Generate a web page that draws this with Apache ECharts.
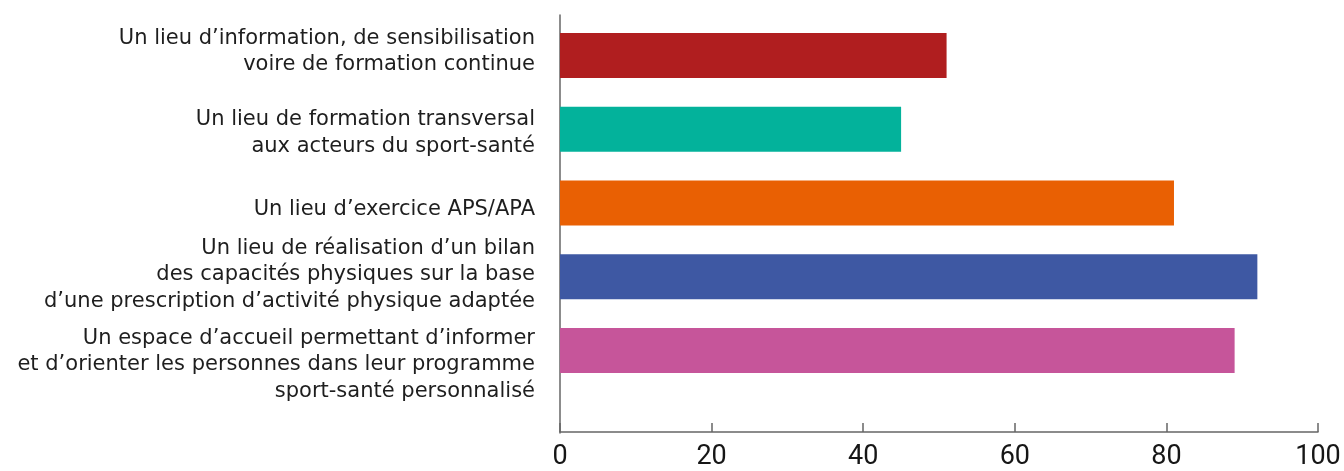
<!DOCTYPE html>
<html><head><meta charset="utf-8">
<script src="https://cdn.jsdelivr.net/npm/echarts@6/dist/echarts.min.js"></script>
<style>html,body{margin:0;padding:0;background:#fff}#c{width:1344px;height:471px}</style>
</head><body><div id="c"></div>
<script>
const categories = [
  "Un lieu d’information, de sensibilisation\nvoire de formation continue",
  "Un lieu de formation transversal\naux acteurs du sport-santé",
  "Un lieu d’exercice APS/APA",
  "Un lieu de réalisation d’un bilan\ndes capacités physiques sur la base\nd’une prescription d’activité physique adaptée",
  "Un espace d’accueil permettant d’informer\net d’orienter les personnes dans leur programme\nsport-santé personnalisé"
];
const values = [51, 45, 81, 92, 89];
const colors = ["#B01E1F", "#03B29B", "#E96003", "#3E58A3", "#C6559A"];
const xTicks = [0, 20, 40, 60, 80, 100];

// layout: vertical nudge of each category label (px, + = down)
const labelShift = [-4, 4, 7, -2, 14];

const font = "DejaVu Sans";
const base = {color: '#1e1e1e', fontSize: 21, fontFamily: font, lineHeight: 26.5, align: 'right'};
const rich = {n: Object.assign({}, base)};
labelShift.forEach((d, i) => {
  rich['sp' + i] = {fontSize: 1, lineHeight: Math.abs(2 * d), color: 'rgba(0,0,0,0)'};
});

const chart = echarts.init(document.getElementById('c'));
chart.setOption({
  animation: false,
  grid: [
    {left: 560, width: 758, top: 18.5, height: 370},
    {left: 560, width: 758, top: 15, height: 418}
  ],
  xAxis: [
    {gridIndex: 0, type: 'value', min: xTicks[0], max: xTicks[xTicks.length-1], interval: 20,
     position: 'bottom', offset: 44.5,
     axisLine: {show: true, lineStyle: {color: '#666', width: 1.5}},
     axisTick: {show: true, inside: true, length: 9, lineStyle: {color: '#666', width: 1.5}},
     axisLabel: {color: '#161616', fontSize: 27, fontFamily: 'Roboto', margin: 12},
     splitLine: {show: false}},
    {gridIndex: 1, type: 'value', show: false}
  ],
  yAxis: [
    {gridIndex: 0, type: 'category', inverse: true, data: categories,
     axisLine: {show: false}, axisTick: {show: false},
     axisLabel: Object.assign({interval: 0, margin: 25, rich: rich,
       formatter: (v, i) => {
         const body = v.split('\n').map(l => '{n|' + l + '}').join('\n');
         const d = labelShift[i];
         if (d > 0) return '{sp' + i + '| }\n' + body;
         if (d < 0) return body + '\n{sp' + i + '| }';
         return body;
       }}, base)},
    {gridIndex: 1, type: 'value', min: 0, max: 1,
     axisLine: {show: true, lineStyle: {color: '#666', width: 1.5}},
     axisTick: {show: false}, axisLabel: {show: false}, splitLine: {show: false}}
  ],
  series: [{
    type: 'bar', xAxisIndex: 0, yAxisIndex: 0,
    data: values.map((v, i) => ({value: v, itemStyle: {color: colors[i]}})),
    barWidth: 45
  }]
});
</script></body></html>
